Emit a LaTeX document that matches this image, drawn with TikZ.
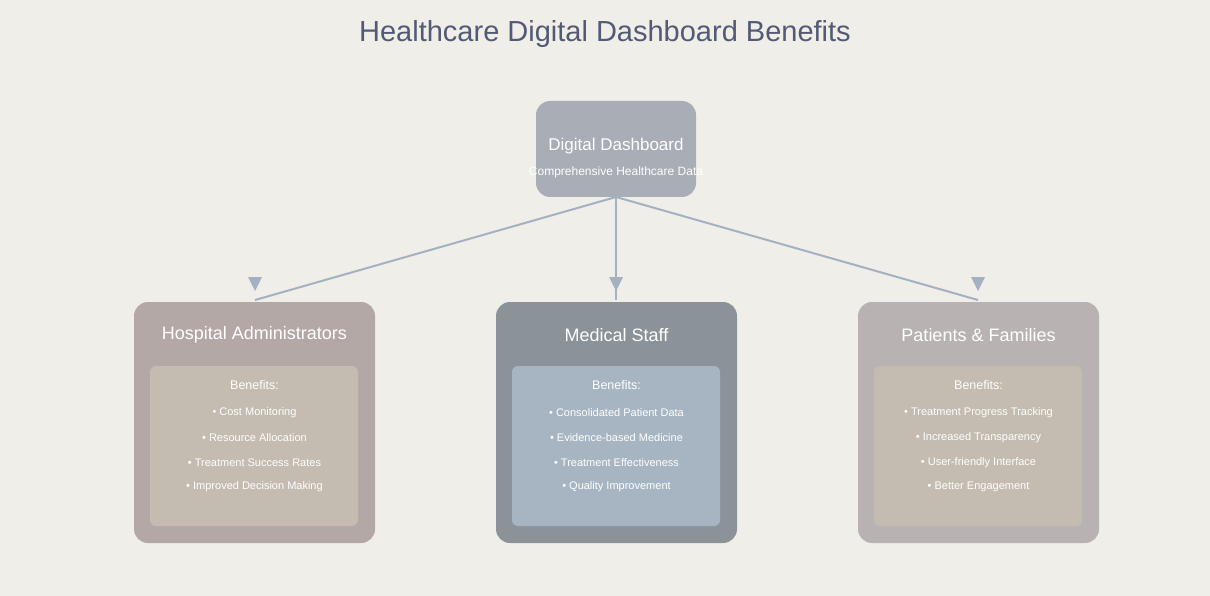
\documentclass[tikz,border=0pt]{standalone}
\usepackage{fontspec}
\setmainfont{Liberation Sans}
\definecolor{bg}{HTML}{F0EEE9}
\definecolor{ttl}{HTML}{525A75}
\definecolor{topc}{HTML}{A9ADB6}
\definecolor{lc}{HTML}{B3A8A5}
\definecolor{mc}{HTML}{8C9398}
\definecolor{rc}{HTML}{B9B2B3}
\definecolor{inA}{HTML}{C4BCB0}
\definecolor{inB}{HTML}{A7B5C3}
\definecolor{ln}{HTML}{A3B1C1}
\begin{document}
\begin{tikzpicture}[x=1pt,y=-1pt,
  card/.style={rounded corners=14pt},
  inner/.style={rounded corners=6pt},
  wt/.style={text=white,inner sep=0pt},
  conn/.style={draw=ln,line width=2pt},
  tri/.style={fill=ln}]
\fill[bg] (0,0) rectangle (1210,596);
\useasboundingbox (0,0) rectangle (1210,596);
\node[text=ttl,font=\fontsize{29}{34}\selectfont] (title) at (605,34) {Healthcare Digital Dashboard Benefits};
\fill[topc,card] (536,101) rectangle (696,197);
\node[wt,font=\fontsize{17}{20}\selectfont] (dd) at (616,146) {Digital Dashboard};
\node[wt,font=\fontsize{12}{14}\selectfont] (dds) at (616,172) {Comprehensive Healthcare Data};
\coordinate (src) at (616,197);
\coordinate (ea) at (255,300);
\coordinate (eb) at (616,300);
\coordinate (ec) at (978,300);
\draw[conn] (src) -- (ea);
\draw[conn] (src) -- (eb);
\draw[conn] (src) -- (ec);
\foreach \x in {255,616,978}{\fill[tri] (\x-7,277) -- (\x+7,277) -- (\x,291) -- cycle;}
\foreach \xa/\cc/\ic/\hd/\nm/\ba/\bb/\bc/\bd in {
 134/lc/inA/Hospital Administrators/ha/Cost Monitoring/Resource Allocation/Treatment Success Rates/Improved Decision Making,
 496/mc/inB/Medical Staff/ms/Consolidated Patient Data/Evidence-based Medicine/Treatment Effectiveness/Quality Improvement,
 858/rc/inA/Patients \& Families/pf/Treatment Progress Tracking/Increased Transparency/User-friendly Interface/Better Engagement}{
 \fill[\cc,card] (\xa,302) rectangle (\xa+241,543);
 \fill[\ic,inner] (\xa+16,366) rectangle (\xa+224,526);
 \node[wt,font=\fontsize{18}{21}\selectfont] (\nm-h) at (\xa+120.5,335) {\hd};
 \node[wt,font=\fontsize{12.5}{15}\selectfont] (\nm-b) at (\xa+120.5,385) {Benefits:};
 \node[wt,font=\fontsize{11}{13}\selectfont] (\nm-1) at (\xa+120.5,413) {• \ba};
 \node[wt,font=\fontsize{11}{13}\selectfont] (\nm-2) at (\xa+120.5,438) {• \bb};
 \node[wt,font=\fontsize{11}{13}\selectfont] (\nm-3) at (\xa+120.5,463) {• \bc};
 \node[wt,font=\fontsize{11}{13}\selectfont] (\nm-4) at (\xa+120.5,487) {• \bd};
}
\end{tikzpicture}
\end{document}
